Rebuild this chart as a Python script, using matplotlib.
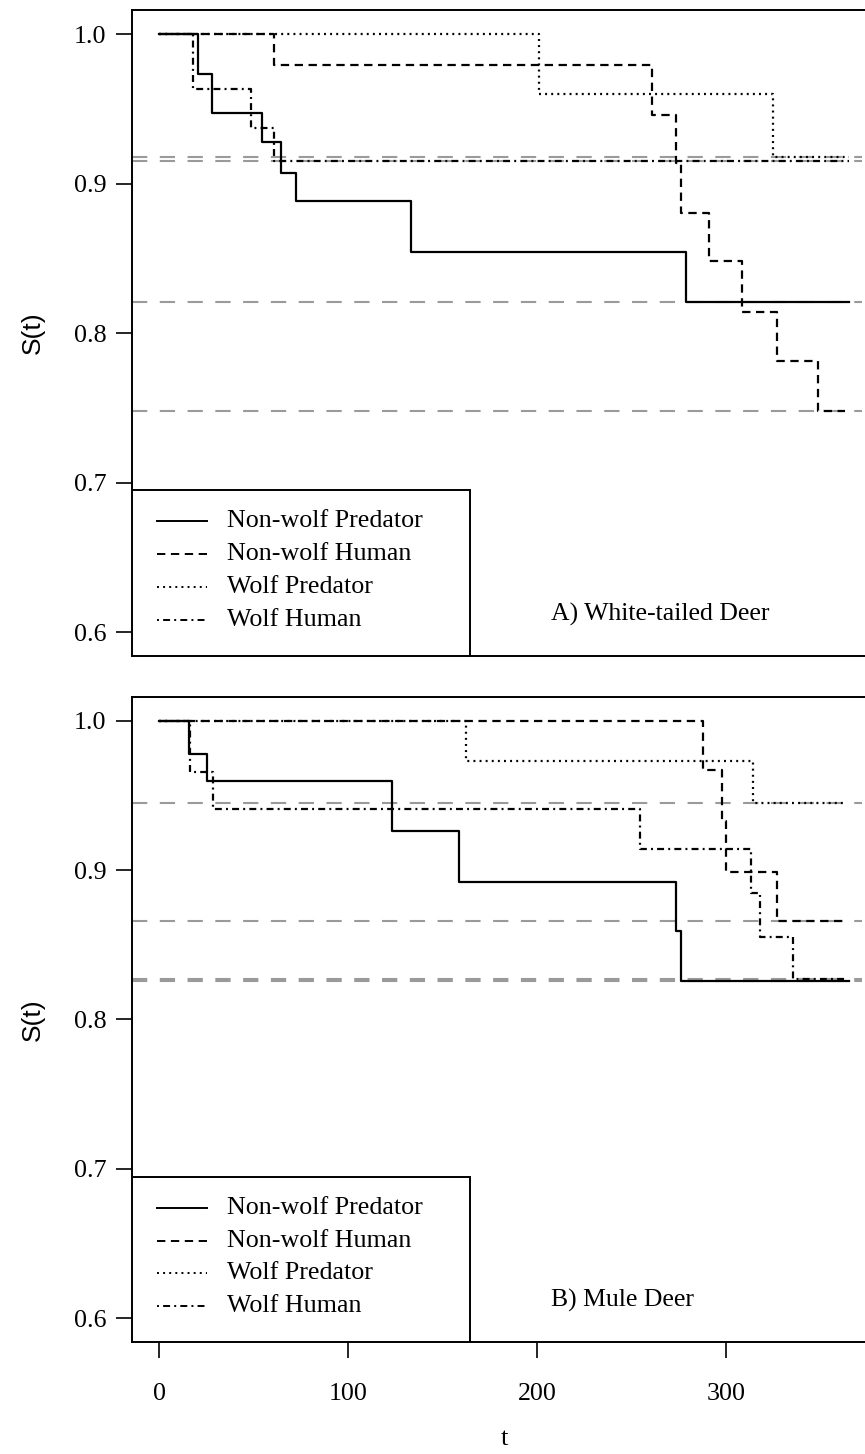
import matplotlib
matplotlib.use("Agg")
import matplotlib.pyplot as plt
from matplotlib.lines import Line2D
from matplotlib.patches import Rectangle

plt.rcParams['font.family'] = ['Liberation Serif', 'DejaVu Serif']
plt.rcParams['lines.scale_dashes'] = False

# series labels and line styles (R lty 1..4)
labels = ['Non-wolf Predator', 'Non-wolf Human', 'Wolf Predator', 'Wolf Human']
styles = ['-', (0, (6, 4)), (0, (1.4, 3)), (0, (1.4, 3, 5, 3))]

# A) White-tailed deer: event times and survival
wt_t = [
    [0, 20.4, 27.8, 54.4, 64.3, 72.5, 133.3, 278.5, 365],
    [0, 60.6, 260.9, 273.4, 275.9, 291.1, 308.4, 327.0, 348.6, 363],
    [0, 201.0, 324.6, 365],
    [0, 17.9, 48.2, 60.6, 365],
]
wt_s = [
    [1, 0.973, 0.947, 0.928, 0.907, 0.888, 0.854, 0.821, 0.821],
    [1, 0.979, 0.946, 0.914, 0.880, 0.848, 0.814, 0.781, 0.748, 0.748],
    [1, 0.960, 0.918, 0.918],
    [1, 0.963, 0.937, 0.915, 0.915],
]

# B) Mule deer
md_t = [
    [0, 15.4, 25.3, 122.9, 158.8, 273.5, 276.2, 365],
    [0, 287.8, 297.9, 300.0, 327.0, 362],
    [0, 162.3, 314.4, 364],
    [0, 15.9, 28.3, 254.4, 313.0, 318.0, 335.5, 364],
]
md_s = [
    [1, 0.978, 0.960, 0.926, 0.892, 0.859, 0.826, 0.826],
    [1, 0.967, 0.933, 0.899, 0.866, 0.866],
    [1, 0.973, 0.945, 0.945],
    [1, 0.966, 0.941, 0.914, 0.885, 0.855, 0.8268, 0.8268],
]

panels = [('A) White-tailed Deer', wt_t, wt_s), ('B) Mule Deer', md_t, md_s)]

W, H = 865, 1454
fig = plt.figure(figsize=(W / 100, H / 100), dpi=100)

left, right = 131.9 / W, 876.5 / W
boxes = [(10.1, 656.0), (697.1, 1341.9)]

for i, (title, times, surv) in enumerate(panels):
    top, bot = boxes[i]
    ax = fig.add_axes([left, 1 - bot / H, right - left, (bot - top) / H])
    ax.set_xlim(-14.6, 379.6)
    ax.set_ylim(0.584, 1.016)

    # grey reference lines at each final survival value
    for s in surv:
        ax.hlines(s[-1], -14.6, 372, colors='#9a9a9a', lw=1.5,
                  linestyles=[(0, (11, 9))], zorder=1)

    for t, s, ls in zip(times, surv, styles):
        ax.step(t, s, where='post', color='black', lw=1.6, linestyle=ls, zorder=2)

    ax.text(207.5, 0.612, title, fontsize=18.5, ha='left', va='center')

    # legend box in the bottom-left corner, R style
    ax.add_patch(Rectangle((0, 0), 0.4546, 0.2563, transform=ax.transAxes,
                           facecolor='white', edgecolor='black', lw=1.4, zorder=3))
    rows = [0.6740, 0.6519, 0.6302, 0.6081]
    for lab, ls, ry in zip(labels, styles, rows):
        ax.add_line(Line2D([-1.5, 25], [ry, ry], color='black', lw=1.4,
                           linestyle=ls, zorder=4))
        ax.text(35.9, ry, lab, fontsize=18.7, va='center', ha='left', zorder=4)

    ax.set_yticks([0.6, 0.7, 0.8, 0.9, 1.0])
    ax.set_yticklabels(['0.6', '0.7', '0.8', '0.9', '1.0'])
    ax.tick_params(axis='y', labelsize=18.7, length=11.5, width=1.2, pad=7)
    ax.set_ylabel('S(t)', fontsize=19, family=['Liberation Sans', 'DejaVu Sans'])
    ax.yaxis.set_label_coords(-0.117, 0.5)
    for sp in ax.spines.values():
        sp.set_linewidth(1.4)

    if i == 0:
        ax.set_xticks([])
    else:
        ax.set_xticks([0, 100, 200, 300])
        ax.tick_params(axis='x', labelsize=18.7, length=11.5, width=1.2, pad=18)
        ax.set_xlabel('t', fontsize=19)
        ax.xaxis.set_label_coords(0.5, -0.133)

fig.savefig('out.png', dpi=100)
